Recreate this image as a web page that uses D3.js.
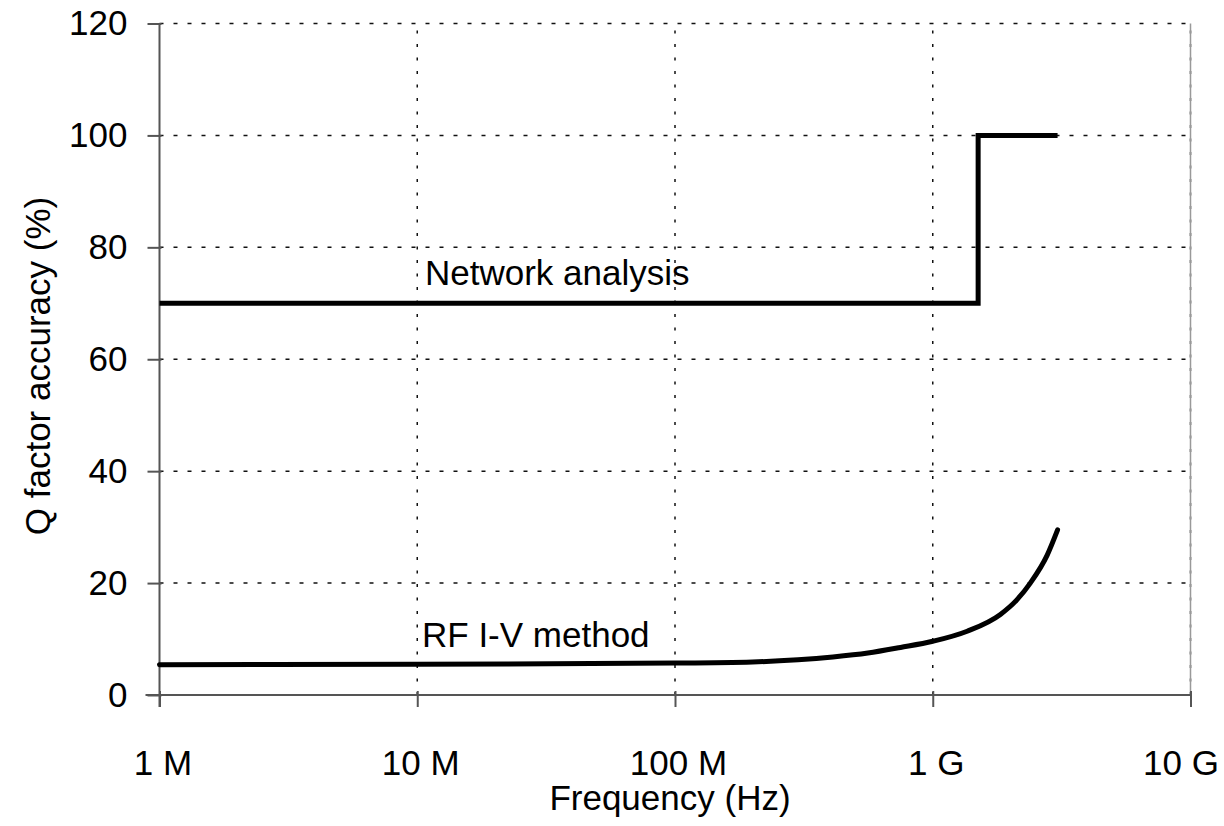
<!DOCTYPE html>
<html>
<head>
<meta charset="utf-8">
<script src="https://cdn.jsdelivr.net/npm/d3@7"></script>
<style>
  body { margin: 0; background: #fff; }
  text { font-family: "Liberation Sans", Arial, sans-serif; fill: #000; }
</style>
</head>
<body>
<svg id="chart" width="1224" height="826"></svg>
<script>
// tick values and labels
var freqTicks = [1e6, 1e7, 1e8, 1e9, 1e10];
var freqLabels = ["1 M", "10 M", "100 M", "1 G", "10 G"];
var accTicks = [0, 20, 40, 60, 80, 100, 120];

// Network analysis (step)
var netFreq = [1e6, 1.5e9, 3.05e9];
var netAcc = [70, 100, 100];

// RF I-V method
var rfFreq = [1e6, 1e7, 1e8, 2e8, 3e8, 4.1e8, 5.6e8, 7.5e8, 1e9, 1.36e9, 1.83e9, 2.12e9, 2.39e9, 2.78e9, 3.05e9];
var rfAcc = [5.4, 5.5, 5.7, 5.9, 6.3, 6.8, 7.5, 8.5, 9.6, 11.4, 14.4, 17, 20, 25, 29.5];

var svg = d3.select("#chart");
var x = d3.scaleLog().domain([1e6, 1e10]).range([159.5, 1190.5]);
var y = d3.scaleLinear().domain([0, 120]).range([695, 23.5]);

// grid
var grid = svg.append("g").attr("class", "grid");
grid.selectAll("line.h")
	.data(accTicks.slice(1))
	.enter().append("line")
	.attr("x1", x.range()[0]).attr("x2", x.range()[1])
	.attr("y1", function(d) { return y(d); })
	.attr("y2", function(d) { return y(d); })
	.attr("stroke", "#111").attr("stroke-width", 1.5)
	.attr("stroke-dasharray", "4,10");

// right border
svg.append("line")
	.attr("x1", x.range()[1]).attr("x2", x.range()[1])
	.attr("y1", y(0)).attr("y2", y(120))
	.attr("stroke", "#999").attr("stroke-width", 1.5);

grid.selectAll("line.v")
	.data(freqTicks.slice(1))
	.enter().append("line")
	.attr("x1", function(d) { return x(d); })
	.attr("x2", function(d) { return x(d); })
	.attr("y1", y(0)).attr("y2", y(120))
	.attr("stroke", "#111").attr("stroke-width", 1.5)
	.attr("stroke-dasharray", "3,10.5");

// axes
var xAxis = d3.axisBottom(x)
	.tickValues(freqTicks)
	.tickFormat(function(d, i) { return freqLabels[i]; })
	.tickSize(12)
	.tickPadding(43);
var gx = svg.append("g")
	.attr("transform", "translate(0," + y(0) + ")")
	.call(xAxis);
gx.select(".domain").remove();
gx.append("line")
	.attr("x1", x.range()[0] - 14).attr("x2", x.range()[1])
	.attr("stroke", "#555").attr("stroke-width", 2);
gx.selectAll(".tick line").attr("y1", -4).attr("stroke", "#555").attr("stroke-width", 2);
gx.selectAll(".tick text")
	.attr("font-size", 35)
	.attr("dx", function(d, i) { return i == freqLabels.length - 1 ? -10 : 3; });

var yAxis = d3.axisLeft(y)
	.tickValues(accTicks)
	.tickSize(12)
	.tickPadding(20);
var gy = svg.append("g")
	.attr("transform", "translate(" + x.range()[0] + ",0)")
	.call(yAxis);
gy.select(".domain").remove();
gy.append("line")
	.attr("y1", y(120)).attr("y2", y(0) + 12)
	.attr("stroke", "#555").attr("stroke-width", 2);
gy.selectAll(".tick line").attr("x2", -12).attr("x1", 2).attr("stroke", "#555").attr("stroke-width", 2);
gy.selectAll(".tick text").attr("font-size", 35).attr("x", -32);

// series
var netLine = d3.line()
	.x(function(d) { return x(d[0]); })
	.y(function(d) { return y(d[1]); })
	.curve(d3.curveStepAfter);
svg.append("path")
	.datum(d3.zip(netFreq, netAcc))
	.attr("d", netLine)
	.attr("fill", "none")
	.attr("stroke", "#000")
	.attr("stroke-width", 5);

var rfLine = d3.line()
	.x(function(d) { return x(d[0]); })
	.y(function(d) { return y(d[1]); })
	.curve(d3.curveMonotoneX);
svg.append("path")
	.datum(d3.zip(rfFreq, rfAcc))
	.attr("d", rfLine)
	.attr("fill", "none")
	.attr("stroke", "#000")
	.attr("stroke-width", 5)
	.attr("stroke-linecap", "round");

// labels
svg.append("text").attr("x", 425).attr("y", 285).attr("font-size", 35).text("Network analysis");
svg.append("text").attr("x", 422).attr("y", 647).attr("font-size", 35).text("RF I-V method");

svg.append("text")
	.attr("x", 670).attr("y", 810)
	.attr("text-anchor", "middle")
	.attr("font-size", 35)
	.text("Frequency (Hz)");

svg.append("text")
	.attr("transform", "translate(50,366) rotate(-90)")
	.attr("text-anchor", "middle")
	.attr("font-size", 35)
	.text("Q factor accuracy (%)");
</script>
</body>
</html>
